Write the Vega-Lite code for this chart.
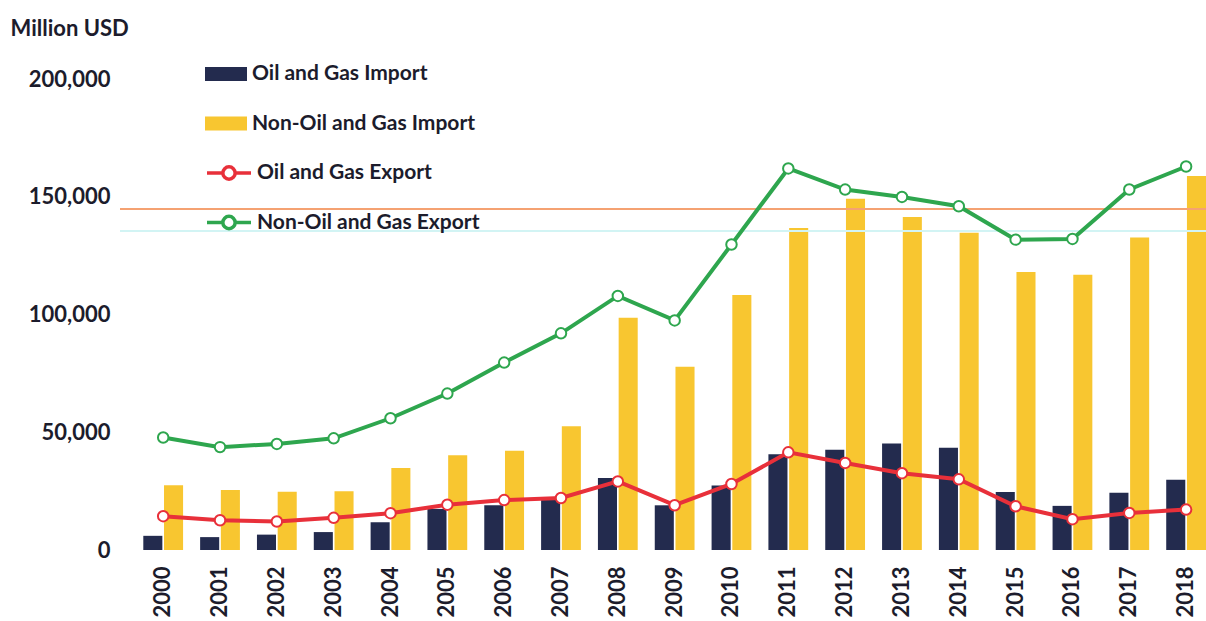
{
  "$schema": "https://vega.github.io/schema/vega-lite/v6.json",
  "width": 1086,
  "height": 471,
  "autosize": {"type": "none"},
  "padding": {"left": 120, "top": 79, "right": 0, "bottom": 71},
  "background": "white",
  "config": {"view": {"stroke": null}, "font": "Lato"},
  "datasets": {
    "imports": [
      {"year": "2000", "series": "Oil and Gas Import", "value": 6019},
      {"year": "2001", "series": "Oil and Gas Import", "value": 5472},
      {"year": "2002", "series": "Oil and Gas Import", "value": 6526},
      {"year": "2003", "series": "Oil and Gas Import", "value": 7611},
      {"year": "2004", "series": "Oil and Gas Import", "value": 11732},
      {"year": "2005", "series": "Oil and Gas Import", "value": 17458},
      {"year": "2006", "series": "Oil and Gas Import", "value": 18963},
      {"year": "2007", "series": "Oil and Gas Import", "value": 21933},
      {"year": "2008", "series": "Oil and Gas Import", "value": 30553},
      {"year": "2009", "series": "Oil and Gas Import", "value": 18981},
      {"year": "2010", "series": "Oil and Gas Import", "value": 27413},
      {"year": "2011", "series": "Oil and Gas Import", "value": 40702},
      {"year": "2012", "series": "Oil and Gas Import", "value": 42564},
      {"year": "2013", "series": "Oil and Gas Import", "value": 45266},
      {"year": "2014", "series": "Oil and Gas Import", "value": 43460},
      {"year": "2015", "series": "Oil and Gas Import", "value": 24613},
      {"year": "2016", "series": "Oil and Gas Import", "value": 18739},
      {"year": "2017", "series": "Oil and Gas Import", "value": 24316},
      {"year": "2018", "series": "Oil and Gas Import", "value": 29869},
      {"year": "2000", "series": "Non-Oil and Gas Import", "value": 27495},
      {"year": "2001", "series": "Non-Oil and Gas Import", "value": 25490},
      {"year": "2002", "series": "Non-Oil and Gas Import", "value": 24763},
      {"year": "2003", "series": "Non-Oil and Gas Import", "value": 24940},
      {"year": "2004", "series": "Non-Oil and Gas Import", "value": 34792},
      {"year": "2005", "series": "Non-Oil and Gas Import", "value": 40243},
      {"year": "2006", "series": "Non-Oil and Gas Import", "value": 42102},
      {"year": "2007", "series": "Non-Oil and Gas Import", "value": 52540},
      {"year": "2008", "series": "Non-Oil and Gas Import", "value": 98644},
      {"year": "2009", "series": "Non-Oil and Gas Import", "value": 77849},
      {"year": "2010", "series": "Non-Oil and Gas Import", "value": 108250},
      {"year": "2011", "series": "Non-Oil and Gas Import", "value": 136734},
      {"year": "2012", "series": "Non-Oil and Gas Import", "value": 149125},
      {"year": "2013", "series": "Non-Oil and Gas Import", "value": 141362},
      {"year": "2014", "series": "Non-Oil and Gas Import", "value": 134719},
      {"year": "2015", "series": "Non-Oil and Gas Import", "value": 118081},
      {"year": "2016", "series": "Non-Oil and Gas Import", "value": 116913},
      {"year": "2017", "series": "Non-Oil and Gas Import", "value": 132669},
      {"year": "2018", "series": "Non-Oil and Gas Import", "value": 158843}
    ],
    "exports": [
      {"year": "2000", "series": "Oil and Gas Export", "value": 14367},
      {"year": "2001", "series": "Oil and Gas Export", "value": 12636},
      {"year": "2002", "series": "Oil and Gas Export", "value": 12113},
      {"year": "2003", "series": "Oil and Gas Export", "value": 13651},
      {"year": "2004", "series": "Oil and Gas Export", "value": 15645},
      {"year": "2005", "series": "Oil and Gas Export", "value": 19232},
      {"year": "2006", "series": "Oil and Gas Export", "value": 21209},
      {"year": "2007", "series": "Oil and Gas Export", "value": 22088},
      {"year": "2008", "series": "Oil and Gas Export", "value": 29126},
      {"year": "2009", "series": "Oil and Gas Export", "value": 19018},
      {"year": "2010", "series": "Oil and Gas Export", "value": 28040},
      {"year": "2011", "series": "Oil and Gas Export", "value": 41477},
      {"year": "2012", "series": "Oil and Gas Export", "value": 36977},
      {"year": "2013", "series": "Oil and Gas Export", "value": 32633},
      {"year": "2014", "series": "Oil and Gas Export", "value": 30019},
      {"year": "2015", "series": "Oil and Gas Export", "value": 18574},
      {"year": "2016", "series": "Oil and Gas Export", "value": 13105},
      {"year": "2017", "series": "Oil and Gas Export", "value": 15744},
      {"year": "2018", "series": "Oil and Gas Export", "value": 17171},
      {"year": "2000", "series": "Non-Oil and Gas Export", "value": 47758},
      {"year": "2001", "series": "Non-Oil and Gas Export", "value": 43685},
      {"year": "2002", "series": "Non-Oil and Gas Export", "value": 45046},
      {"year": "2003", "series": "Non-Oil and Gas Export", "value": 47407},
      {"year": "2004", "series": "Non-Oil and Gas Export", "value": 55940},
      {"year": "2005", "series": "Non-Oil and Gas Export", "value": 66428},
      {"year": "2006", "series": "Non-Oil and Gas Export", "value": 79589},
      {"year": "2007", "series": "Non-Oil and Gas Export", "value": 92012},
      {"year": "2008", "series": "Non-Oil and Gas Export", "value": 107894},
      {"year": "2009", "series": "Non-Oil and Gas Export", "value": 97491},
      {"year": "2010", "series": "Non-Oil and Gas Export", "value": 129740},
      {"year": "2011", "series": "Non-Oil and Gas Export", "value": 162020},
      {"year": "2012", "series": "Non-Oil and Gas Export", "value": 153043},
      {"year": "2013", "series": "Non-Oil and Gas Export", "value": 149919},
      {"year": "2014", "series": "Non-Oil and Gas Export", "value": 145961},
      {"year": "2015", "series": "Non-Oil and Gas Export", "value": 131792},
      {"year": "2016", "series": "Non-Oil and Gas Export", "value": 132081},
      {"year": "2017", "series": "Non-Oil and Gas Export", "value": 153084},
      {"year": "2018", "series": "Non-Oil and Gas Export", "value": 162841}
    ],
    "marks": [
      {"level": 144800, "line": "orange"},
      {"level": 135500, "line": "cyan"}
    ]
  },
  "layer": [
    {
      "data": {"name": "imports"},
      "mark": {"type": "bar"},
      "encoding": {
        "x": {
          "field": "year", "type": "nominal",
          "scale": {"paddingInner": 0.3, "paddingOuter": 0.205, "align": 1},
          "axis": {
            "title": null, "labelAngle": -90, "labelFont": "Lato", "labelFontSize": 22,
            "labelFontWeight": "bold", "labelColor": "#1c1c2c", "labelPadding": 16,
            "ticks": false, "domain": false, "grid": false
          }
        },
        "xOffset": {
          "field": "series", "type": "nominal",
          "sort": ["Oil and Gas Import", "Non-Oil and Gas Import"],
          "scale": {"paddingInner": 0.08}
        },
        "y": {
          "field": "value", "type": "quantitative",
          "scale": {"domain": [0, 200000]},
          "axis": {
            "title": "Million USD", "titleAngle": 0, "titleAlign": "left", "titleBaseline": "alphabetic",
            "titleX": -110, "titleY": -44, "titleFont": "Lato", "titleFontSize": 22,
            "titleFontWeight": "bold", "titleColor": "#1c1c2c",
            "values": [0, 50000, 100000, 150000, 200000],
            "labelExpr": "format(datum.value, ',')",
            "labelFont": "Lato", "labelFontSize": 22, "labelFontWeight": "bold",
            "labelColor": "#1c1c2c", "labelPadding": 10,
            "ticks": false, "domain": false, "grid": false
          }
        },
        "fill": {
          "field": "series", "type": "nominal",
          "scale": {"domain": ["Oil and Gas Import", "Non-Oil and Gas Import"], "range": ["#232b4e", "#f8c630"]},
          "legend": {
            "title": null, "orient": "none", "legendX": 85, "legendY": -26, "direction": "vertical",
            "symbolType": "M-1,-0.33H1V0.33H-1Z", "symbolSize": 1764, "symbolStrokeWidth": 0,
            "labelFont": "Lato", "labelFontSize": 21, "labelFontWeight": "bold",
            "labelColor": "#1c1c2c", "labelOffset": 5, "rowPadding": 18.5, "labelLimit": 400
          }
        }
      }
    },
    {
      "data": {"name": "marks"},
      "mark": {"type": "rule", "strokeWidth": 2},
      "encoding": {
        "y": {"field": "level", "type": "quantitative"},
        "color": {
          "field": "line", "type": "nominal",
          "scale": {"domain": ["orange", "cyan"], "range": ["#f5a272", "#d2f4f4"]},
          "legend": null
        }
      }
    },
    {
      "data": {"name": "exports"},
      "mark": {"type": "line", "strokeWidth": 4},
      "encoding": {
        "x": {"field": "year", "type": "nominal"},
        "y": {"field": "value", "type": "quantitative"},
        "stroke": {
          "field": "series", "type": "nominal",
          "scale": {"domain": ["Oil and Gas Export", "Non-Oil and Gas Export"], "range": ["#e8303a", "#2ea64e"]},
          "legend": {
            "title": null, "orient": "none", "legendX": 85, "legendY": 70, "direction": "vertical",
            "symbolType": "M-1,0H-0.28M0.28,0H1M0.28,0A0.28,0.28 0 1,1 -0.28,0A0.28,0.28 0 1,1 0.28,0",
            "symbolSize": 1936, "symbolStrokeWidth": 3.5, "symbolFillColor": "white",
            "labelFont": "Lato", "labelFontSize": 21, "labelFontWeight": "bold",
            "labelColor": "#1c1c2c", "labelOffset": 4, "rowPadding": 11.5, "labelLimit": 400,
            "encode": {"symbols": {"update": {"fill": {"value": "white"}, "opacity": {"value": 1}}}}
          }
        }
      }
    },
    {
      "data": {"name": "exports"},
      "mark": {"type": "point", "filled": true, "fill": "white", "size": 110, "strokeWidth": 2, "opacity": 1},
      "encoding": {
        "x": {"field": "year", "type": "nominal"},
        "y": {"field": "value", "type": "quantitative"},
        "stroke": {"field": "series", "type": "nominal", "legend": null}
      }
    }
  ]
}
